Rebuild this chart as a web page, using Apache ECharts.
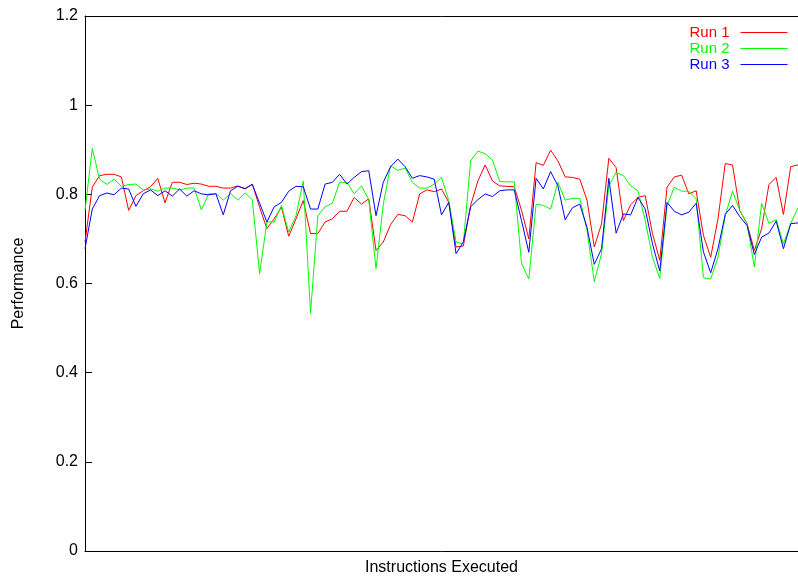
<!DOCTYPE html>
<html>
<head>
<meta charset="utf-8">
<script src="https://cdn.jsdelivr.net/npm/echarts@6/dist/echarts.min.js"></script>
<style>html,body{margin:0;padding:0;background:#fff}#c{width:798px;height:581px}</style>
</head>
<body>
<div id="c"></div>
<script>
const seriesNames = ['Run 1', 'Run 2', 'Run 3'];
const seriesColors = ['#ff0000', '#00ff00', '#0000ff'];
const yTicks = [0, 0.2, 0.4, 0.6, 0.8, 1, 1.2];

const run1 = [0.693,0.816,0.842,0.845,0.845,0.839,0.764,0.797,0.808,0.817,
0.836,0.781,0.827,0.827,0.822,0.825,0.823,0.818,0.818,0.814,
0.814,0.819,0.812,0.823,0.771,0.723,0.745,0.771,0.706,0.745,
0.786,0.712,0.712,0.738,0.745,0.762,0.762,0.793,0.778,0.790,
0.674,0.693,0.732,0.755,0.752,0.738,0.801,0.810,0.806,0.812,
0.782,0.682,0.684,0.775,0.830,0.866,0.830,0.819,0.818,0.817,
0.764,0.700,0.871,0.865,0.899,0.875,0.839,0.838,0.834,0.787,
0.682,0.734,0.881,0.860,0.741,0.777,0.793,0.797,0.712,0.652,
0.816,0.839,0.843,0.801,0.808,0.708,0.659,0.745,0.869,0.866,
0.764,0.734,0.674,0.723,0.822,0.838,0.755,0.862,0.866];

const run2 = [0.764,0.903,0.834,0.822,0.834,0.818,0.822,0.823,0.810,0.812,
0.807,0.814,0.814,0.810,0.814,0.814,0.765,0.801,0.802,0.787,
0.802,0.787,0.803,0.788,0.622,0.738,0.738,0.775,0.715,0.752,
0.830,0.533,0.752,0.772,0.780,0.827,0.827,0.801,0.819,0.788,
0.633,0.778,0.864,0.854,0.859,0.827,0.814,0.814,0.823,0.838,
0.786,0.693,0.689,0.875,0.897,0.891,0.877,0.829,0.828,0.828,
0.645,0.610,0.778,0.775,0.767,0.827,0.787,0.791,0.791,0.719,
0.604,0.667,0.819,0.849,0.842,0.819,0.808,0.741,0.659,0.611,
0.775,0.816,0.807,0.807,0.790,0.613,0.610,0.659,0.752,0.807,
0.764,0.734,0.637,0.780,0.735,0.743,0.689,0.735,0.770];

const run3 = [0.678,0.767,0.797,0.803,0.799,0.814,0.812,0.773,0.801,0.810,
0.797,0.808,0.796,0.812,0.796,0.808,0.801,0.799,0.801,0.754,
0.808,0.818,0.813,0.822,0.780,0.738,0.772,0.782,0.807,0.818,
0.817,0.767,0.767,0.823,0.827,0.845,0.823,0.838,0.851,0.853,
0.752,0.827,0.862,0.879,0.862,0.836,0.842,0.839,0.834,0.754,
0.782,0.667,0.693,0.772,0.788,0.801,0.795,0.808,0.810,0.810,
0.741,0.670,0.836,0.812,0.851,0.819,0.743,0.770,0.778,0.726,
0.643,0.678,0.836,0.713,0.756,0.754,0.793,0.767,0.689,0.628,
0.782,0.762,0.754,0.760,0.780,0.671,0.624,0.678,0.755,0.775,
0.750,0.730,0.665,0.704,0.713,0.740,0.678,0.734,0.736];

const categories = run1.map((_, i) => String(i));
const allRuns = [run1, run2, run3];

const FONT = "'Liberation Sans', Arial, sans-serif";
const chart = echarts.init(document.getElementById('c'), null, {renderer: 'canvas'});
chart.setOption({
  animation: false,
  backgroundColor: '#ffffff',
  textStyle: {fontFamily: FONT},
  grid: {left: 85, right: 0, top: 16, bottom: 26},
  legend: {
    orient: 'vertical', right: 10, top: 25, align: 'right', padding: 0,
    itemWidth: 47, itemHeight: 14, itemGap: 1,
    itemStyle: {opacity: 0},
    lineStyle: {width: 1},
    textStyle: {fontSize: 15, lineHeight: 15, fontFamily: FONT, padding: [0, 6, 0, 0]},
    data: seriesNames.map((n, i) => ({name: n, textStyle: {color: seriesColors[i]}}))
  },
  xAxis: [{
    type: 'category', data: categories, boundaryGap: false,
    name: 'Instructions Executed', nameLocation: 'middle', nameGap: 9,
    nameTextStyle: {fontSize: 16, color: '#000', fontFamily: FONT},
    axisLine: {show: true, lineStyle: {color: '#000', width: 1}},
    axisTick: {show: false}, axisLabel: {show: false}, splitLine: {show: false}
  }, {
    type: 'category', data: categories, boundaryGap: false, position: 'top',
    axisLine: {show: true, onZero: false, lineStyle: {color: '#000', width: 1}},
    axisTick: {show: false}, axisLabel: {show: false}, splitLine: {show: false}
  }],
  yAxis: {
    type: 'value', min: 0, max: 1.2, interval: 0.2,
    name: 'Performance', nameLocation: 'middle', nameGap: 58, nameRotate: 90,
    nameTextStyle: {fontSize: 16, color: '#000', fontFamily: FONT},
    axisLine: {show: true, lineStyle: {color: '#000', width: 1}},
    axisTick: {show: true, inside: true, length: 7, lineStyle: {color: '#000'}},
    axisLabel: {fontSize: 16, color: '#000', margin: 7, fontFamily: FONT,
      formatter: v => { const t = yTicks.find(x => Math.abs(x - v) < 1e-9); return String(t !== undefined ? t : v); }},
    splitLine: {show: false}
  },
  series: allRuns.map((d, i) => ({
    name: seriesNames[i], type: 'line', data: d, symbol: 'none',
    lineStyle: {color: seriesColors[i], width: 1}, itemStyle: {color: seriesColors[i]},
    z: 2 + i
  }))
});
</script>
</body>
</html>
